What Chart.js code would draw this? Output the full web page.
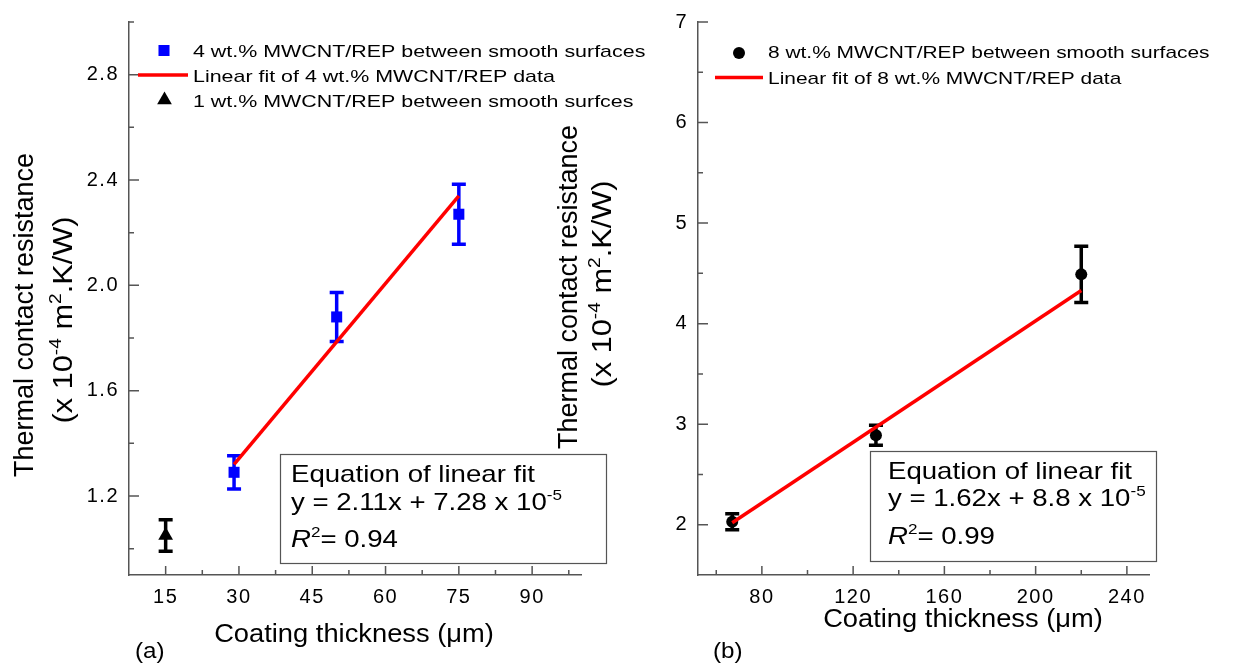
<!DOCTYPE html>
<html>
<head>
<meta charset="utf-8">
<script src="https://cdn.jsdelivr.net/npm/chart.js@4.4.0/dist/chart.umd.min.js"></script>
<style>
  body { margin: 0; background: #fff; }
  #wrap { position: relative; width: 1237px; height: 666px; overflow: hidden; background: #fff; }
  canvas { position: absolute; top: 0; }
  #ca { left: 0; }
  #cb { left: 530px; }
</style>
</head>
<body>
<div id="wrap">
  <canvas id="ca" width="660" height="666"></canvas>
  <canvas id="cb" width="707" height="666"></canvas>
</div>
<script>
// (a) 4 wt.% and 1 wt.% MWCNT/REP
var thickA4 = [29, 50, 75];
var resA4 = [1.29, 1.88, 2.27];
var errA4 = [0.063, 0.093, 0.114];
var thickA1 = [15];
var resA1 = [1.05];
var errA1 = [0.06];
var fitAx = [29, 75];
var fitAy = [1.32, 2.34];
var xTicksA = [15, 30, 45, 60, 75, 90];
var xMinorA = [22.5, 37.5, 52.5, 67.5, 82.5, 97.5];
var yTicksA = [1.2, 1.6, 2.0, 2.4, 2.8];
var yMinorA = [1.0, 1.4, 1.8, 2.2, 2.6, 3.0];

// (b) 8 wt.% MWCNT/REP
var thickB8 = [67, 130, 220];
var resB8 = [2.03, 2.89, 4.49];
var errB8 = [0.08, 0.10, 0.28];
var fitBx = [67, 220];
var fitBy = [2.02, 4.33];
var xTicksB = [80, 120, 160, 200, 240];
var xMinorB = [60, 100, 140, 180, 220];
var yTicksB = [2, 3, 4, 5, 6, 7];
var yMinorB = [2.5, 3.5, 4.5, 5.5, 6.5];

var FONT = '"Liberation Sans", Arial, Helvetica, sans-serif';
Chart.defaults.font.family = FONT;

function pts(xs, ys) {
  return xs.map(function (x, i) { return { x: x, y: ys[i] }; });
}

// text made of pieces, some raised (superscripts) or italic
function rich(ctx, parts, x, y, size, sx, align, rot) {
  ctx.save();
  ctx.letterSpacing = '0px';
  var w = 0;
  parts.forEach(function (p) {
    ctx.font = (p.it ? 'italic ' : '') + (p.sup ? size * 0.62 : size) + 'px ' + FONT;
    p.w = ctx.measureText(p.t).width;
    w += p.w;
  });
  ctx.translate(x, y);
  if (rot) ctx.rotate(rot);
  ctx.scale(sx, 1);
  ctx.fillStyle = '#000';
  ctx.textBaseline = 'alphabetic';
  ctx.textAlign = 'left';
  var cx = align === 'center' ? -w / 2 : 0;
  parts.forEach(function (p) {
    ctx.font = (p.it ? 'italic ' : '') + (p.sup ? size * 0.62 : size) + 'px ' + FONT;
    ctx.fillText(p.t, cx, p.sup ? -size * 0.42 : 0);
    cx += p.w;
  });
  ctx.restore();
}

var decor = {
  id: 'decor',
  beforeDraw: function (chart) {
    // tick labels in the source are set a little wide
    chart.ctx.letterSpacing = '1.5px';
  },
  beforeDatasetsDraw: function (chart, args, o) {
    var ctx = chart.ctx, ys = chart.scales.y;
    ctx.save();
    ctx.lineWidth = 3.5;
    ctx.lineCap = 'butt';
    o.err.forEach(function (e) {
      var ds = chart.data.datasets[e.ds];
      ctx.strokeStyle = ds.backgroundColor;
      chart.getDatasetMeta(e.ds).data.forEach(function (pt, i) {
        var v = ds.data[i].y;
        var top = ys.getPixelForValue(v + e.vals[i]);
        var bot = ys.getPixelForValue(v - e.vals[i]);
        ctx.beginPath();
        ctx.moveTo(pt.x, top); ctx.lineTo(pt.x, bot);
        ctx.moveTo(pt.x - 7, top); ctx.lineTo(pt.x + 7, top);
        ctx.moveTo(pt.x - 7, bot); ctx.lineTo(pt.x + 7, bot);
        ctx.stroke();
      });
    });
    ctx.restore();
  },
  afterDraw: function (chart, args, o) {
    var ctx = chart.ctx, xs = chart.scales.x, ys = chart.scales.y, a = chart.chartArea;
    var ox = o.ox;
    // inward ticks
    ctx.save();
    ctx.strokeStyle = '#555';
    ctx.lineWidth = 1.5;
    ctx.beginPath();
    xs.ticks.forEach(function (t) {
      var p = xs.getPixelForValue(t.value);
      ctx.moveTo(p, a.bottom); ctx.lineTo(p, a.bottom - 9);
    });
    o.minorX.forEach(function (v) {
      var p = xs.getPixelForValue(v);
      ctx.moveTo(p, a.bottom); ctx.lineTo(p, a.bottom - 5);
    });
    ys.ticks.forEach(function (t) {
      var p = ys.getPixelForValue(t.value);
      ctx.moveTo(a.left, p); ctx.lineTo(a.left + 10, p);
    });
    o.minorY.forEach(function (v) {
      var p = ys.getPixelForValue(v);
      ctx.moveTo(a.left, p); ctx.lineTo(a.left + 5, p);
    });
    ctx.stroke();

    // legend
    o.legend.forEach(function (l) {
      var ds = chart.data.datasets[l.ds];
      if (ds.showLine) {
        ctx.strokeStyle = ds.borderColor;
        ctx.lineWidth = 3.5;
        ctx.beginPath();
        ctx.moveTo(l.x0 - ox, l.y); ctx.lineTo(l.x1 - ox, l.y);
        ctx.stroke();
      } else {
        ctx.fillStyle = ds.backgroundColor;
        Chart.helpers.drawPoint(ctx, {
          pointStyle: ds.pointStyle, radius: ds.pointRadius, rotation: 0, borderWidth: 0
        }, l.mx - ox, l.y);
      }
      rich(ctx, [{ t: ds.label }], l.tx - ox, l.ty, 17, o.legSx, 'left');
    });

    // fit box
    var b = o.box;
    ctx.strokeStyle = '#555';
    ctx.lineWidth = 1.2;
    ctx.strokeRect(b.x0 - ox + 0.5, b.y0 + 0.5, b.x1 - b.x0, b.y1 - b.y0);
    b.lines.forEach(function (ln) {
      rich(ctx, ln.parts, b.tx - ox, ln.y, 24, 1.15, 'left');
    });

    // axis titles and panel tag
    var yt = o.ytitle;
    rich(ctx, [{ t: 'Thermal contact resistance' }], yt.x1 - ox, yt.cy1, 27, 1.0, 'center', -Math.PI / 2);
    rich(ctx, [{ t: '(x 10' }, { t: '-4', sup: true }, { t: ' m' }, { t: '2', sup: true }, { t: '.K/W)' }],
      yt.x2 - ox, yt.cy2, 27, 1.14, 'center', -Math.PI / 2);
    rich(ctx, [{ t: 'Coating thickness (' }, { t: '\u03bc' }, { t: 'm)' }], o.xtitle.x - ox, o.xtitle.y, 26, 1.05, 'center');
    rich(ctx, [{ t: o.tag.t }], o.tag.x - ox, o.tag.y, 22, 1.1, 'left');
    ctx.restore();
  }
};

function axes(xmin, xmax, xt, ymin, ymax, yt, ywidth, ydec) {
  return {
    x: {
      type: 'linear', min: xmin, max: xmax,
      grid: { display: false, drawTicks: false },
      border: { display: true, color: '#555', width: 1.5 },
      ticks: { color: '#000', font: { size: 20 }, padding: 10, autoSkip: false, maxRotation: 0,
        callback: function (v) { return String(v); } },
      afterBuildTicks: function (s) { s.ticks = xt.map(function (v) { return { value: v }; }); },
      afterFit: function (s) { s.height = 91; }
    },
    y: {
      type: 'linear', min: ymin, max: ymax,
      grid: { display: false, drawTicks: false },
      border: { display: true, color: '#555', width: 1.5 },
      ticks: { color: '#000', font: { size: 20 }, padding: 10, autoSkip: false,
        callback: function (v) { return v.toFixed(ydec); } },
      afterBuildTicks: function (s) { s.ticks = yt.map(function (v) { return { value: v }; }); },
      afterFit: function (s) { s.width = ywidth; }
    }
  };
}

new Chart(document.getElementById('ca'), {
  type: 'scatter',
  data: {
    datasets: [
      { label: 'Linear fit of 4 wt.% MWCNT/REP data', type: 'line', data: pts(fitAx, fitAy),
        borderColor: '#ff0000', borderWidth: 3.5, pointRadius: 0, showLine: true, tension: 0, order: 0 },
      { label: '4 wt.% MWCNT/REP between smooth surfaces', data: pts(thickA4, resA4),
        pointStyle: 'rect', pointRadius: 7.8, backgroundColor: '#0000ff', pointBorderWidth: 0, order: 1 },
      { label: '1 wt.% MWCNT/REP between smooth surfces', data: pts(thickA1, resA1),
        pointStyle: 'triangle', pointRadius: 8.5, backgroundColor: '#000000', pointBorderWidth: 0, order: 1 }
    ]
  },
  options: {
    responsive: false, animation: false, devicePixelRatio: 1, events: [],
    layout: { padding: { top: 20, right: 79, bottom: 0, left: 0 } },
    scales: axes(7.5, 100, xTicksA, 0.9, 3.0, yTicksA, 129, 1),
    plugins: {
      legend: { display: false }, tooltip: { enabled: false },
      decor: {
        ox: 0, legSx: 1.26,
        err: [{ ds: 1, vals: errA4 }, { ds: 2, vals: errA1 }],
        minorX: xMinorA, minorY: yMinorA,
        legend: [
          { ds: 1, mx: 164, y: 50.5, tx: 193, ty: 57 },
          { ds: 0, x0: 138, x1: 188, y: 75, tx: 193, ty: 82 },
          { ds: 2, mx: 164.5, y: 100, tx: 193, ty: 107 }
        ],
        box: { x0: 280, y0: 454, x1: 606, y1: 563, tx: 291, lines: [
          { y: 482, parts: [{ t: 'Equation of linear fit' }] },
          { y: 510, parts: [{ t: 'y = 2.11x + 7.28 x 10' }, { t: '-5', sup: true }] },
          { y: 547, parts: [{ t: 'R', it: true }, { t: '2', sup: true }, { t: '= 0.94' }] }
        ] },
        ytitle: { x1: 33, cy1: 315, x2: 72, cy2: 320 },
        xtitle: { x: 354, y: 642 },
        tag: { t: '(a)', x: 135, y: 658 }
      }
    }
  },
  plugins: [decor]
});

new Chart(document.getElementById('cb'), {
  type: 'scatter',
  data: {
    datasets: [
      { label: 'Linear fit of 8 wt.% MWCNT/REP data', type: 'line', data: pts(fitBx, fitBy),
        borderColor: '#ff0000', borderWidth: 3.5, pointRadius: 0, showLine: true, tension: 0, order: 0 },
      { label: '8 wt.% MWCNT/REP between smooth surfaces', data: pts(thickB8, resB8),
        pointStyle: 'circle', pointRadius: 6, backgroundColor: '#000000', pointBorderWidth: 0, order: 1 }
    ]
  },
  options: {
    responsive: false, animation: false, devicePixelRatio: 1, events: [],
    layout: { padding: { top: 19, right: 87.3, bottom: 0, left: 0 } },
    scales: axes(52, 250, xTicksB, 1.5, 7.0, yTicksB, 168, 0),
    plugins: {
      legend: { display: false }, tooltip: { enabled: false },
      decor: {
        ox: 530, legSx: 1.23,
        err: [{ ds: 1, vals: errB8 }],
        minorX: xMinorB, minorY: yMinorB,
        legend: [
          { ds: 1, mx: 739, y: 53, tx: 768, ty: 58 },
          { ds: 0, x0: 715, x1: 763, y: 77.5, tx: 768, ty: 84 }
        ],
        box: { x0: 870, y0: 451, x1: 1156, y1: 561, tx: 888, lines: [
          { y: 479, parts: [{ t: 'Equation of linear fit' }] },
          { y: 506, parts: [{ t: 'y = 1.62x + 8.8 x 10' }, { t: '-5', sup: true }] },
          { y: 544, parts: [{ t: 'R', it: true }, { t: '2', sup: true }, { t: '= 0.99' }] }
        ] },
        ytitle: { x1: 577, cy1: 287, x2: 611, cy2: 284 },
        xtitle: { x: 963, y: 627 },
        tag: { t: '(b)', x: 713, y: 658 }
      }
    }
  },
  plugins: [decor]
});
</script>
</body>
</html>
